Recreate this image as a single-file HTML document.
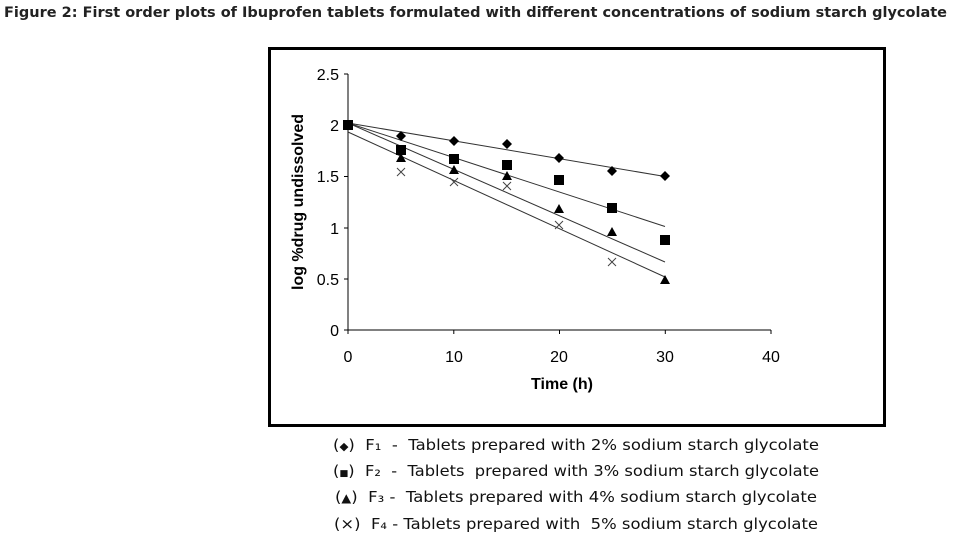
<!DOCTYPE html>
<html><head><meta charset="utf-8"><style>html,body{margin:0;padding:0;background:#fff}svg{display:block}text{white-space:pre}</style></head><body>
<svg width="957" height="535" viewBox="0 0 957 535" xmlns="http://www.w3.org/2000/svg" font-family="Liberation Sans, Arial, sans-serif">
<text x="4" y="17" font-size="14" font-weight="bold" font-family="DejaVu Sans, sans-serif" fill="#222" textLength="943" lengthAdjust="spacingAndGlyphs">Figure 2: First order plots of Ibuprofen tablets formulated with different concentrations of sodium starch glycolate</text>
<rect x="269.5" y="48.5" width="615" height="377" fill="none" stroke="#000" stroke-width="3"/>
<g stroke="#000" stroke-width="1" fill="none">
<line x1="348" y1="74" x2="348" y2="334"/>
<line x1="348" y1="330" x2="771" y2="330"/>
<line x1="344" y1="74" x2="348" y2="74"/><line x1="344" y1="125" x2="348" y2="125"/><line x1="344" y1="176.5" x2="348" y2="176.5"/><line x1="344" y1="228" x2="348" y2="228"/><line x1="344" y1="279" x2="348" y2="279"/><line x1="344" y1="330" x2="348" y2="330"/>
<line x1="453.8" y1="330" x2="453.8" y2="334"/><line x1="559.5" y1="330" x2="559.5" y2="334"/><line x1="665.3" y1="330" x2="665.3" y2="334"/><line x1="771" y1="330" x2="771" y2="334"/>
</g>
<g font-size="16" fill="#000" text-anchor="end">
<text x="339" y="80">2.5</text><text x="339" y="131">2</text><text x="339" y="182">1.5</text><text x="339" y="234">1</text><text x="339" y="285">0.5</text><text x="339" y="336">0</text>
</g>
<g font-size="16" fill="#000" text-anchor="middle">
<text x="348" y="362">0</text><text x="454" y="362">10</text><text x="559" y="362">20</text><text x="665" y="362">30</text><text x="771" y="362">40</text>
</g>
<text x="562" y="389" font-size="16" font-weight="bold" text-anchor="middle">Time (h)</text>
<text transform="translate(303,202) rotate(-90)" font-size="16" font-weight="bold" text-anchor="middle">log %drug undissolved</text>
<g stroke="#333" stroke-width="1">
<line x1="348" y1="123" x2="665" y2="176.5"/>
<line x1="348" y1="123" x2="665" y2="226.5"/>
<line x1="348" y1="123" x2="665" y2="262"/>
<line x1="348" y1="132" x2="665" y2="277"/>
</g>
<g fill="#000">
<g>
<path d="M348,120l5,5l-5,5l-5,-5z"/><path d="M401,131l5,5l-5,5l-5,-5z"/><path d="M454,136l5,5l-5,5l-5,-5z"/><path d="M507,139l5,5l-5,5l-5,-5z"/><path d="M559,153l5,5l-5,5l-5,-5z"/><path d="M612,166l5,5l-5,5l-5,-5z"/><path d="M665,171l5,5l-5,5l-5,-5z"/>
</g>
<rect x="343" y="120" width="10" height="10"/><rect x="396" y="145" width="10" height="10"/><rect x="449" y="154" width="10" height="10"/><rect x="502" y="160" width="10" height="10"/><rect x="554" y="175" width="10" height="10"/><rect x="607" y="203" width="10" height="10"/><rect x="660" y="235" width="10" height="10"/>
<path d="M401,153l5,9h-10z"/><path d="M454,165l5,9h-10z"/><path d="M507,171l5,9h-10z"/><path d="M559,204l5,9h-10z"/><path d="M612,227l5,9h-10z"/><path d="M665,275l5,9h-10z"/>
</g>
<g stroke="#444" stroke-width="1">
<path d="M397,168l8,8M405,168l-8,8"/><path d="M450,178l8,8M458,178l-8,8"/><path d="M503,182l8,8M511,182l-8,8"/><path d="M555,221l8,8M563,221l-8,8"/><path d="M608,258l8,8M616,258l-8,8"/>
</g>
<g font-size="15.5" font-family="DejaVu Sans, sans-serif" fill="#111">
<text x="333" y="450" textLength="486" lengthAdjust="spacingAndGlyphs">(<tspan font-size="11">◆</tspan>)  F₁  -  Tablets prepared with 2% sodium starch glycolate</text>
<text x="333" y="476" textLength="486" lengthAdjust="spacingAndGlyphs">(<tspan font-size="9">■</tspan>)  F₂  -  Tablets  prepared with 3% sodium starch glycolate</text>
<text x="335" y="502" textLength="482" lengthAdjust="spacingAndGlyphs">(<tspan font-size="12">▲</tspan>)  F₃ -  Tablets prepared with 4% sodium starch glycolate</text>
<text x="334" y="529" textLength="484" lengthAdjust="spacingAndGlyphs">(×)  F₄ - Tablets prepared with  5% sodium starch glycolate</text>
</g>
</svg>
</body></html>
